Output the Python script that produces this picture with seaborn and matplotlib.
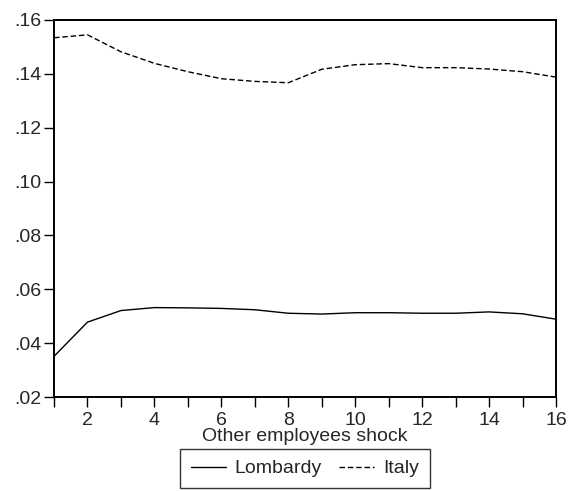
import matplotlib
matplotlib.use("Agg")
import matplotlib.pyplot as plt
import seaborn as sns
import pandas as pd
from matplotlib.lines import Line2D

periods = list(range(1, 17))
lombardy = [0.0351, 0.0478, 0.0521, 0.0532, 0.0531, 0.0529, 0.0524, 0.0511,
            0.0508, 0.0513, 0.0513, 0.0511, 0.0511, 0.0516, 0.0509, 0.0489]
italy = [0.1534, 0.1545, 0.1482, 0.1439, 0.1408, 0.1382, 0.1372, 0.1367,
         0.1417, 0.1434, 0.1438, 0.1423, 0.1423, 0.1418, 0.1408, 0.1388]
series_names = ["Lombardy", "Italy"]
xlabel = "Other employees shock"
yticks = [0.02, 0.04, 0.06, 0.08, 0.10, 0.12, 0.14, 0.16]
ytick_labels = [".02", ".04", ".06", ".08", ".10", ".12", ".14", ".16"]
xticks_labeled = [2, 4, 6, 8, 10, 12, 14, 16]

df = pd.DataFrame({
    "period": periods * 2,
    "value": lombardy + italy,
    "region": [series_names[0]] * len(periods) + [series_names[1]] * len(periods),
})

sns.set_style("ticks")
plt.rcParams["font.family"] = ["Liberation Sans", "DejaVu Sans"]
FS = 14

fig = plt.figure(figsize=(5.70, 4.91), dpi=100)
ax = fig.add_axes([54 / 570, 1 - 397 / 491, (556 - 54) / 570, (397 - 20) / 491])

sns.lineplot(data=df, x="period", y="value", hue="region", style="region",
             palette={"Lombardy": "black", "Italy": "black"},
             dashes={"Lombardy": "", "Italy": (4, 2)},
             linewidth=1.0, ax=ax, legend=False)

ax.set_xlim(1, 16)
ax.set_ylim(0.02, 0.16)
ax.set_yticks(yticks)
ax.set_yticklabels(ytick_labels, fontsize=FS)
ax.set_xticks(periods)
ax.set_xticklabels([str(p) if p in xticks_labeled else "" for p in periods], fontsize=FS)
ax.tick_params(axis="both", direction="out", length=7, width=1, color="black", pad=2)
ax.tick_params(axis="x", pad=4)
ax.set_xlabel(xlabel, fontsize=FS, labelpad=-1)
ax.set_ylabel("")
for s in ax.spines.values():
    s.set_visible(True)
    s.set_linewidth(1.4)
    s.set_color("black")

handles = [Line2D([0], [0], color="black", lw=1.0),
           Line2D([0], [0], color="black", lw=1.0, dashes=(4, 2))]
leg = fig.legend(handles, series_names, loc="center",
                 bbox_to_anchor=(305 / 570, 1 - 468.5 / 491), ncol=2,
                 frameon=True, fancybox=False, shadow=False, fontsize=FS,
                 handlelength=1.8, handletextpad=0.45, columnspacing=0.9,
                 borderpad=0.55)
leg.get_frame().set_edgecolor("black")
leg.get_frame().set_linewidth(1.0)

fig.savefig("out.png", dpi=100)
